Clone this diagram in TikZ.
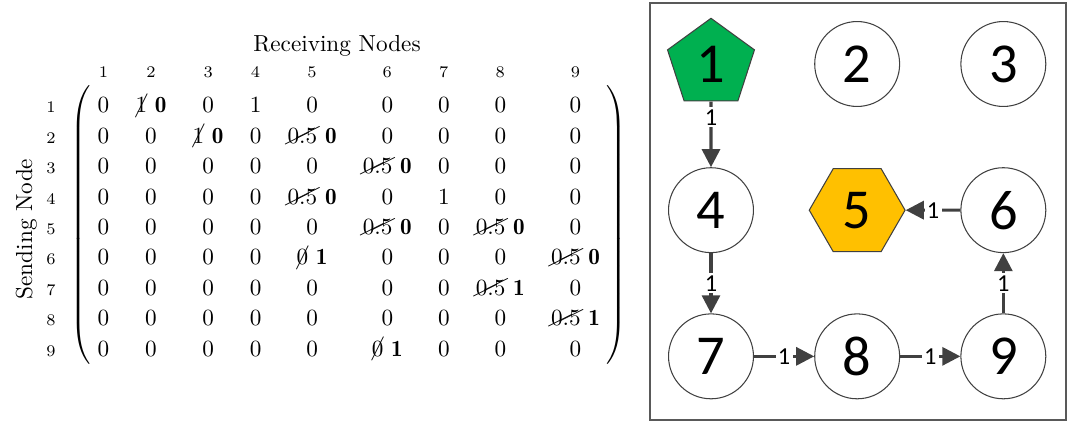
\documentclass[tikz,border=0pt]{standalone}
\usepackage{fontspec}
\usepackage{amsmath}
\usepackage{cancel}
\usetikzlibrary{matrix, positioning, shapes.geometric, arrows.meta}
\newfontfamily\carlito{Carlito}
% struck-out old weight followed by the new one
\newcommand{\was}[2]{\cancel{#1}\ \mathbf{#2}}

\definecolor{leadgreen}{HTML}{00B050}
\definecolor{goalgold}{HTML}{FFC000}
\definecolor{linkgrey}{HTML}{404040}
\definecolor{boxgrey}{HTML}{595959}

\tikzset{
    idx/.style={font=\scriptsize, anchor=base},
    agent/.style={circle, draw=linkgrey, line width=0.45pt, fill=white,
        minimum size=36.6pt, inner sep=0pt,
        font=\carlito\fontsize{24.3}{28}\selectfont},
    leader/.style={agent, regular polygon, regular polygon sides=5,
        fill=leadgreen, minimum size=39.4pt},
    goal/.style={agent, regular polygon, regular polygon sides=6,
        fill=goalgold, minimum size=41.3pt},
    flow/.style={draw=linkgrey, line width=1.3pt,
        -{Triangle[length=7.8pt,width=7.8pt]}},
    wt/.style={fill=white, inner sep=1pt, font=\carlito\fontsize{10.5}{12}\selectfont},
}

\begin{document}
\begin{tikzpicture}[x=0.431pt, y=-0.431pt, node distance=63pt, on grid]
\useasboundingbox (0,0) rectangle (1070,424);

% weight matrix
\matrix (adj) [matrix of math nodes, nodes={inner sep=0pt},
    left delimiter=(, right delimiter=), inner xsep=1.5pt,
    every right delimiter/.style={xshift=2pt},
    column sep=11.3pt, row sep={13.1pt,between origins},
    matrix anchor=adj-1-1.base] at (103.5,113) {
0 & \was{1}{0} & 0 & 1 & 0 & 0 & 0 & 0 & 0 \\
0 & 0 & \was{1}{0} & 0 & \was{0.5}{0} & 0 & 0 & 0 & 0 \\
0 & 0 & 0 & 0 & 0 & \was{0.5}{0} & 0 & 0 & 0 \\
0 & 0 & 0 & 0 & \was{0.5}{0} & 0 & 1 & 0 & 0 \\
0 & 0 & 0 & 0 & 0 & \was{0.5}{0} & 0 & \was{0.5}{0} & 0 \\
0 & 0 & 0 & 0 & \was{0}{1} & 0 & 0 & 0 & \was{0.5}{0} \\
0 & 0 & 0 & 0 & 0 & 0 & 0 & \was{0.5}{1} & 0 \\
0 & 0 & 0 & 0 & 0 & 0 & 0 & 0 & \was{0.5}{1} \\
0 & 0 & 0 & 0 & 0 & \was{0}{1} & 0 & 0 & 0 \\
};
\coordinate (lx) at (51,0);
\coordinate (ly) at (0,78);
\foreach \r in {1,...,9}
    \node[idx] (row\r) at (adj-\r-1.base -| lx) {\r};
\foreach \c in {1,...,9}
    \node[idx] (col\c) at (adj-1-\c.center |- ly) {\c};
\node[anchor=base] (recv) at (337,52) {Receiving Nodes};
\node[anchor=base, rotate=90] (send) at (32,229) {Sending Node};

% network
\draw[boxgrey, line width=0.65pt] (650,3) rectangle (1066,420);
\node[leader] (n1) at (711,64) {1};
\node[agent] (n2) [right=of n1] {2};
\node[agent] (n3) [right=of n2] {3};
\node[agent] (n4) [below=of n1] {4};
\node[goal] (n5) [right=of n4] {5};
\node[agent] (n6) [right=of n5] {6};
\node[agent] (n7) [below=of n4] {7};
\node[agent] (n8) [right=of n7] {8};
\node[agent] (n9) [right=of n8] {9};

\draw[flow] (n1) -- node[wt, pos=0.24] {1} (n4);
\draw[flow] (n4) -- node[wt] {1} (n7);
\draw[flow] (n7) -- node[wt] {1} (n8);
\draw[flow] (n8) -- node[wt] {1} (n9);
\draw[flow] (n9) -- node[wt] {1} (n6);
\draw[flow] (n6) -- node[wt] {1} (n5);
\end{tikzpicture}
\end{document}
